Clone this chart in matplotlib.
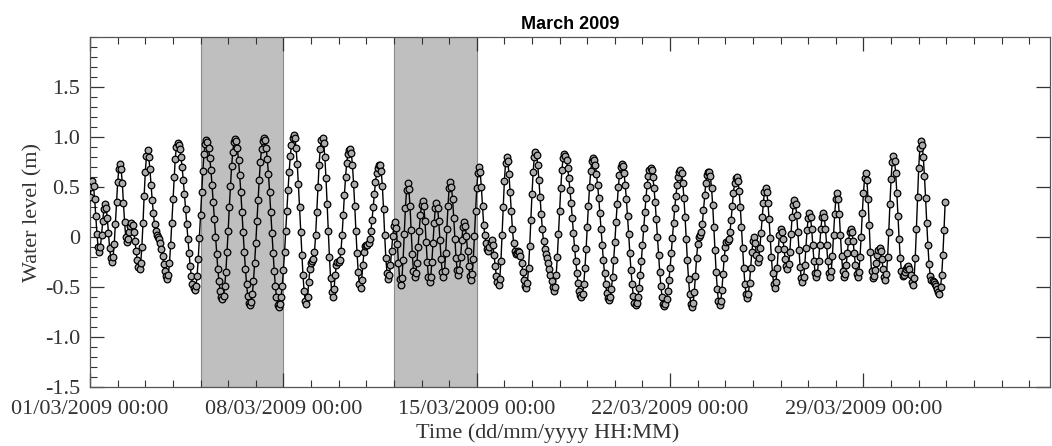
import matplotlib
matplotlib.use("Agg")
import matplotlib.pyplot as plt
import matplotlib.dates as mdates
from matplotlib.ticker import FixedLocator, MultipleLocator, FuncFormatter
import pandas as pd

# hourly water level (m), 01/03/2009 00:00 onwards, one row per day
water_level = [
    0.40, 0.50, 0.56, 0.51, 0.38, 0.21, 0.03, -0.10, -0.15, -0.10, 0.02, 0.16, 0.28, 0.33, 0.29, 0.19, 0.04, -0.11, -0.21, -0.25, -0.20, -0.07, 0.13, 0.35,
    0.55, 0.68, 0.73, 0.68, 0.54, 0.34, 0.15, 0.00, -0.05, -0.02, 0.05, 0.11, 0.14, 0.12, 0.05, -0.04, -0.14, -0.23, -0.30, -0.32, -0.26, -0.10, 0.14, 0.41,
    0.65, 0.81, 0.87, 0.80, 0.68, 0.52, 0.37, 0.24, 0.13, 0.06, 0.02, 0.00, -0.02, -0.06, -0.12, -0.19, -0.27, -0.34, -0.39, -0.42, -0.38, -0.26, -0.08, 0.14,
    0.38, 0.60, 0.78, 0.90, 0.94, 0.92, 0.88, 0.80, 0.70, 0.57, 0.43, 0.28, 0.13, -0.02, -0.16, -0.29, -0.39, -0.47, -0.51, -0.53, -0.49, -0.39, -0.22, -0.01,
    0.22, 0.45, 0.66, 0.83, 0.93, 0.97, 0.95, 0.89, 0.79, 0.67, 0.52, 0.35, 0.18, 0.00, -0.17, -0.32, -0.44, -0.54, -0.60, -0.62, -0.59, -0.49, -0.35, -0.15,
    0.06, 0.30, 0.51, 0.71, 0.85, 0.95, 0.98, 0.96, 0.89, 0.77, 0.62, 0.45, 0.25, 0.05, -0.15, -0.32, -0.47, -0.59, -0.66, -0.68, -0.65, -0.57, -0.44, -0.26,
    -0.06, 0.16, 0.37, 0.57, 0.75, 0.88, 0.96, 0.99, 0.97, 0.89, 0.78, 0.63, 0.45, 0.25, 0.04, -0.16, -0.34, -0.49, -0.60, -0.68, -0.70, -0.67, -0.60, -0.49,
    -0.33, -0.15, 0.06, 0.26, 0.47, 0.65, 0.81, 0.92, 0.99, 1.02, 0.99, 0.89, 0.73, 0.53, 0.30, 0.05, -0.18, -0.38, -0.54, -0.64, -0.67, -0.60, -0.45, -0.32,
    -0.26, -0.24, -0.22, -0.15, 0.02, 0.25, 0.50, 0.72, 0.88, 0.97, 0.99, 0.94, 0.80, 0.59, 0.33, 0.06, -0.20, -0.41, -0.55, -0.60, -0.52, -0.38, -0.28, -0.25,
    -0.25, -0.23, -0.14, 0.02, 0.22, 0.42, 0.60, 0.74, 0.83, 0.87, 0.88, 0.84, 0.72, 0.53, 0.31, 0.06, -0.16, -0.35, -0.47, -0.51, -0.43, -0.28, -0.15, -0.09,
    -0.08, -0.08, -0.06, -0.02, 0.06, 0.17, 0.30, 0.43, 0.55, 0.64, 0.69, 0.72, 0.72, 0.66, 0.51, 0.28, 0.02, -0.21, -0.36, -0.42, -0.38, -0.28, -0.14, 0.01,
    0.11, 0.15, 0.09, -0.07, -0.26, -0.42, -0.48, -0.41, -0.23, 0.03, 0.29, 0.47, 0.54, 0.48, 0.31, 0.07, -0.17, -0.34, -0.40, -0.36, -0.26, -0.10, 0.06, 0.22,
    0.32, 0.36, 0.31, 0.16, -0.05, -0.25, -0.40, -0.45, -0.40, -0.25, -0.06, 0.14, 0.29, 0.34, 0.29, 0.16, -0.03, -0.22, -0.35, -0.40, -0.34, -0.16, 0.08, 0.31,
    0.49, 0.55, 0.50, 0.38, 0.19, -0.02, -0.21, -0.33, -0.38, -0.33, -0.20, -0.03, 0.10, 0.15, 0.11, 0.01, -0.14, -0.29, -0.39, -0.43, -0.37, -0.22, 0.01, 0.26,
    0.49, 0.64, 0.70, 0.65, 0.50, 0.31, 0.12, 0.02, -0.06, -0.12, -0.14, -0.10, -0.05, -0.03, -0.08, -0.18, -0.29, -0.39, -0.45, -0.48, -0.42, -0.24, 0.02, 0.30,
    0.56, 0.74, 0.80, 0.76, 0.63, 0.45, 0.26, 0.08, -0.06, -0.14, -0.17, -0.16, -0.14, -0.15, -0.19, -0.26, -0.35, -0.43, -0.49, -0.51, -0.46, -0.31, -0.09, 0.17,
    0.43, 0.65, 0.80, 0.85, 0.82, 0.72, 0.57, 0.40, 0.23, 0.08, -0.04, -0.12, -0.17, -0.21, -0.26, -0.32, -0.38, -0.44, -0.50, -0.54, -0.50, -0.38, -0.20, 0.03,
    0.26, 0.49, 0.67, 0.79, 0.83, 0.81, 0.77, 0.69, 0.59, 0.47, 0.34, 0.19, 0.04, -0.11, -0.24, -0.36, -0.46, -0.54, -0.58, -0.60, -0.57, -0.47, -0.31, -0.12,
    0.10, 0.31, 0.50, 0.66, 0.76, 0.79, 0.77, 0.72, 0.63, 0.52, 0.39, 0.24, 0.08, -0.08, -0.23, -0.36, -0.47, -0.56, -0.61, -0.63, -0.60, -0.52, -0.40, -0.23,
    -0.05, 0.15, 0.33, 0.50, 0.62, 0.70, 0.73, 0.71, 0.64, 0.52, 0.38, 0.21, 0.03, -0.16, -0.33, -0.47, -0.59, -0.66, -0.68, -0.66, -0.60, -0.51, -0.38, -0.24,
    -0.08, 0.09, 0.25, 0.39, 0.52, 0.61, 0.67, 0.69, 0.67, 0.60, 0.49, 0.35, 0.18, 0.00, -0.18, -0.35, -0.49, -0.60, -0.67, -0.69, -0.67, -0.62, -0.54, -0.43,
    -0.31, -0.16, -0.01, 0.14, 0.29, 0.41, 0.52, 0.60, 0.65, 0.67, 0.64, 0.54, 0.39, 0.20, -0.02, -0.23, -0.42, -0.57, -0.67, -0.70, -0.66, -0.55, -0.39, -0.21,
    -0.07, 0.00, 0.02, 0.05, 0.13, 0.27, 0.42, 0.54, 0.62, 0.65, 0.65, 0.61, 0.49, 0.32, 0.10, -0.13, -0.35, -0.52, -0.64, -0.68, -0.64, -0.53, -0.37, -0.21,
    -0.10, -0.05, -0.04, -0.02, 0.05, 0.17, 0.31, 0.44, 0.54, 0.59, 0.60, 0.56, 0.46, 0.30, 0.10, -0.11, -0.31, -0.47, -0.57, -0.61, -0.57, -0.46, -0.31, -0.15,
    -0.04, 0.00, -0.06, -0.18, -0.25, -0.21, -0.11, 0.04, 0.20, 0.34, 0.45, 0.49, 0.45, 0.34, 0.18, -0.01, -0.20, -0.36, -0.47, -0.51, -0.45, -0.31, -0.12, 0.02,
    0.08, 0.05, -0.02, -0.12, -0.22, -0.29, -0.32, -0.27, -0.15, 0.03, 0.20, 0.32, 0.37, 0.33, 0.22, 0.05, -0.13, -0.30, -0.41, -0.45, -0.40, -0.28, -0.11, 0.07,
    0.19, 0.24, 0.20, 0.08, -0.08, -0.24, -0.36, -0.40, -0.36, -0.24, -0.08, 0.08, 0.20, 0.24, 0.20, 0.08, -0.08, -0.24, -0.36, -0.40, -0.34, -0.19, 0.02, 0.23,
    0.38, 0.44, 0.38, 0.23, 0.02, -0.19, -0.34, -0.40, -0.37, -0.28, -0.16, -0.04, 0.05, 0.08, 0.05, -0.04, -0.16, -0.28, -0.37, -0.40, -0.35, -0.20, 0.00, 0.24,
    0.44, 0.59, 0.64, 0.57, 0.38, 0.12, -0.15, -0.34, -0.41, -0.39, -0.33, -0.26, -0.18, -0.13, -0.11, -0.14, -0.22, -0.32, -0.40, -0.43, -0.37, -0.20, 0.05, 0.33,
    0.58, 0.75, 0.81, 0.76, 0.64, 0.44, 0.21, -0.02, -0.21, -0.34, -0.39, -0.38, -0.35, -0.32, -0.30, -0.29, -0.32, -0.38, -0.45, -0.48, -0.41, -0.21, 0.08, 0.40,
    0.69, 0.89, 0.96, 0.92, 0.80, 0.61, 0.39, 0.14, -0.08, -0.27, -0.39, -0.43, -0.44, -0.45, -0.47, -0.49, -0.52, -0.55, -0.57, -0.50, -0.38, -0.18, 0.07, 0.35,
]
assert len(water_level) == 31 * 24

start = "2009-03-01 00:00"
x_end = "2009-04-04 18:00"
shaded_periods = [("2009-03-05", "2009-03-08"), ("2009-03-12", "2009-03-15")]
date_ticks = ["2009-03-01", "2009-03-08", "2009-03-15", "2009-03-22", "2009-03-29"]
y_ticks = [-1.5, -1.0, -0.5, 0.0, 0.5, 1.0, 1.5]

times = pd.date_range(start, periods=len(water_level), freq="h")

plt.rcParams["font.family"] = ["Liberation Serif", "DejaVu Serif"]
plt.rcParams["axes.unicode_minus"] = False

fig = plt.figure(figsize=(10.52, 4.46), dpi=100)
ax = fig.add_axes([0.0856, 0.132, 0.9124, 0.785])

for t0, t1 in shaded_periods:
    ax.axvspan(pd.Timestamp(t0), pd.Timestamp(t1), facecolor="#bfbfbf",
               edgecolor="#8c8c8c", linewidth=0.8, zorder=0)

ax.plot(times, water_level, color="black", linewidth=1.0, marker="o",
        markersize=4.8, markerfacecolor="#acacac", markeredgecolor="black",
        markeredgewidth=0.9, zorder=3)

ax.set_xlim(pd.Timestamp(start), pd.Timestamp(x_end))
ax.set_ylim(-1.5, 2.0)

ax.xaxis.set_major_locator(FixedLocator(mdates.date2num(pd.to_datetime(date_ticks))))
ax.xaxis.set_major_formatter(mdates.DateFormatter("%d/%m/%Y %H:%M"))
ax.xaxis.set_minor_locator(mdates.DayLocator())

ax.yaxis.set_major_locator(FixedLocator(y_ticks))
ax.yaxis.set_major_formatter(FuncFormatter(lambda v, p: "0" if abs(v) < 1e-9 else f"{v:.1f}"))
ax.yaxis.set_minor_locator(MultipleLocator(0.1))

ax.tick_params(which="both", direction="in", top=True, right=True,
               labelsize=16, colors="#333333", labelcolor="#333333")
ax.tick_params(which="major", length=10, width=0.9)
ax.tick_params(which="minor", length=5, width=0.8)
ax.tick_params(axis="x", which="major", pad=9)
ax.tick_params(axis="y", which="major", pad=7)
ax.tick_params(axis="y", which="minor", right=False)

for s in ax.spines.values():
    s.set_color("#555555")
    s.set_linewidth(0.9)

ax.set_ylabel("Water level (m)", fontsize=16, color="#333333")
ax.yaxis.set_label_coords(-0.05, 0.5)
ax.set_xlabel("Time (dd/mm/yyyy HH:MM)", fontsize=16, color="#333333")
ax.xaxis.set_label_coords(0.477, -0.103)
ax.set_title("March 2009", fontsize=13, fontweight="bold",
             family="Liberation Sans", pad=6)

fig.savefig("out.png", dpi=100)
